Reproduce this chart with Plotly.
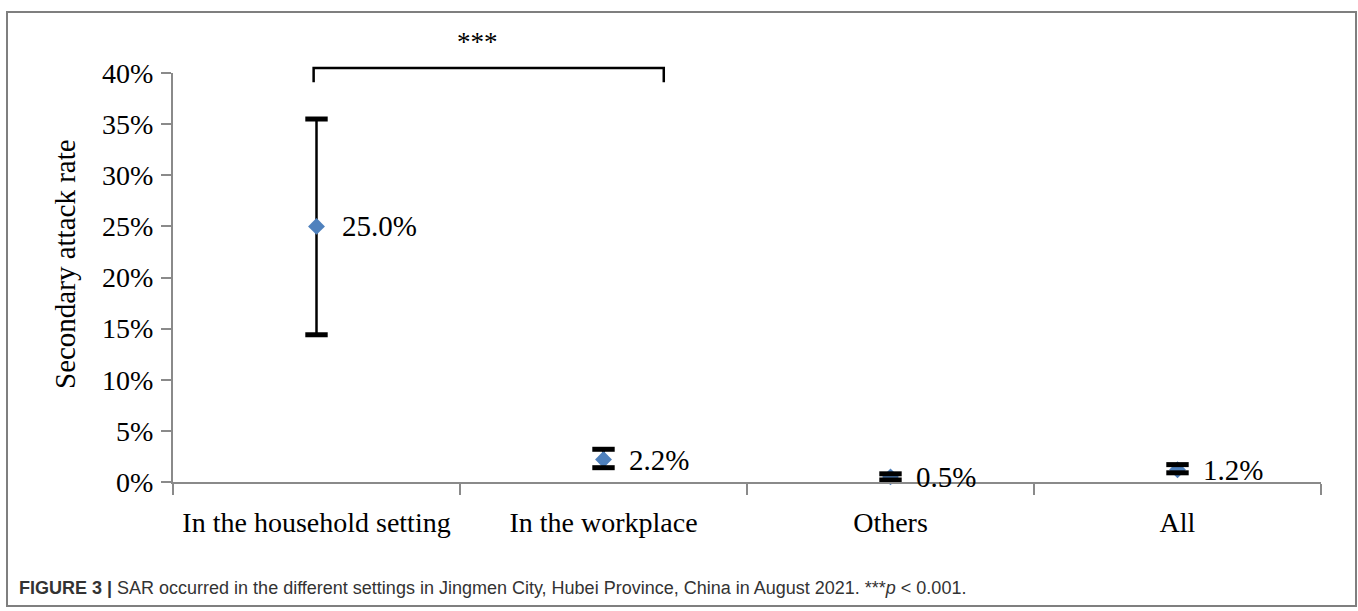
import plotly.graph_objects as go

# Secondary attack rate (%) by setting, with 95% confidence limits
categories = ["In the household setting", "In the workplace", "Others", "All"]
sar = [25.0, 2.2, 0.5, 1.2]
ci_low = [14.4, 1.4, 0.2, 0.9]
ci_high = [35.5, 3.2, 0.8, 1.7]
y_ticks = [0, 5, 10, 15, 20, 25, 30, 35, 40]

W, H = 1358, 611
L, R, T, B = 173, 37, 73, 129
PW, PH = W - L - R, H - T - B
Y_MAX = 40

SERIF = "Liberation Serif, Times New Roman, serif"
AXIS_GREY = "#8a8a8a"


def px_x(px):
    return (px - L) / PW


def px_y(py):
    return (H - B - py) / PH


def cat_to_paper(idx):
    return (idx + 0.5) / len(categories)


def val_to_paper(v):
    return v / Y_MAX


fig = go.Figure()

# point estimates with vertical confidence lines
fig.add_trace(go.Scatter(
    x=categories, y=sar, mode="markers",
    marker=dict(symbol="diamond", size=13, color="#4f81bd"),
    error_y=dict(type="data", symmetric=False,
                 array=[h - v for h, v in zip(ci_high, sar)],
                 arrayminus=[v - l for l, v in zip(ci_low, sar)],
                 color="black", thickness=2.5, width=0),
    cliponaxis=False, showlegend=False, hoverinfo="skip",
))

# thick caps at both confidence limits
for bound in (ci_high, ci_low):
    fig.add_trace(go.Scatter(
        x=categories, y=bound, mode="markers",
        marker=dict(symbol="line-ew", size=16,
                    line=dict(color="black", width=5)),
        cliponaxis=False, showlegend=False, hoverinfo="skip",
    ))

# value labels
for c, v in zip(categories, sar):
    fig.add_annotation(x=c, y=v, xref="x", yref="y", text=f"{v:.1f}%",
                       showarrow=False, xanchor="left", yanchor="middle",
                       xshift=23, font=dict(family=SERIF, size=29, color="black"))

# significance bracket between household and workplace
br_y, br_leg = 40.5, 39.1
br_x0, br_x1 = -0.01, 1.21
fig.add_shape(type="path", xref="paper", yref="paper",
              path=(f"M {cat_to_paper(br_x0)},{val_to_paper(br_leg)} "
                    f"L {cat_to_paper(br_x0)},{val_to_paper(br_y)} "
                    f"L {cat_to_paper(br_x1)},{val_to_paper(br_y)} "
                    f"L {cat_to_paper(br_x1)},{val_to_paper(br_leg)}"),
              line=dict(color="black", width=2.5))
fig.add_annotation(x=cat_to_paper(0.56), y=val_to_paper(43.0), xref="paper", yref="paper",
                   text="***", showarrow=False, xanchor="center", yanchor="middle",
                   font=dict(family=SERIF, size=27, color="black"))

# y-axis title
fig.add_annotation(x=px_x(65), y=px_y(264), xref="paper", yref="paper",
                   text="Secondary attack rate", textangle=-90, showarrow=False,
                   xanchor="center", yanchor="middle",
                   font=dict(family=SERIF, size=29, color="black"))

# outer frame of the figure panel
fig.add_shape(type="rect", xref="paper", yref="paper",
              x0=px_x(7), x1=px_x(1356), y0=px_y(606), y1=px_y(12),
              line=dict(color="#7f7f7f", width=2), layer="below")

# caption
fig.add_annotation(
    x=px_x(17), y=px_y(588), xref="paper", yref="paper",
    text=("<b>FIGURE 3 |</b> SAR occurred in the different settings in Jingmen City, "
          "Hubei Province, China in August 2021. ***<i>p</i> &lt; 0.001."),
    showarrow=False, xanchor="left", yanchor="middle",
    font=dict(family="Liberation Sans, Arial, sans-serif", size=18, color="#333333"))

fig.update_layout(
    width=W, height=H,
    margin=dict(l=L, r=R, t=T, b=B, pad=0),
    paper_bgcolor="white", plot_bgcolor="white",
    font=dict(family=SERIF, size=28, color="black"),
    xaxis=dict(type="category", categoryorder="array", categoryarray=categories,
               range=[-0.5, len(categories) - 0.5],
               showline=True, linecolor=AXIS_GREY, linewidth=2,
               ticks="outside", tickson="boundaries", ticklen=11,
               tickcolor=AXIS_GREY, tickwidth=2, showgrid=False, zeroline=False,
               ticklabelstandoff=14,
               tickfont=dict(family=SERIF, size=28, color="black")),
    yaxis=dict(range=[0, Y_MAX], tickmode="array", tickvals=y_ticks,
               ticktext=[f"{v}%" for v in y_ticks],
               showline=True, linecolor=AXIS_GREY, linewidth=2,
               ticks="outside", ticklen=10, tickcolor=AXIS_GREY, tickwidth=2,
               showgrid=False, zeroline=False, ticklabelstandoff=2,
               tickfont=dict(family=SERIF, size=28, color="black")),
)

fig.write_html("out.html")
